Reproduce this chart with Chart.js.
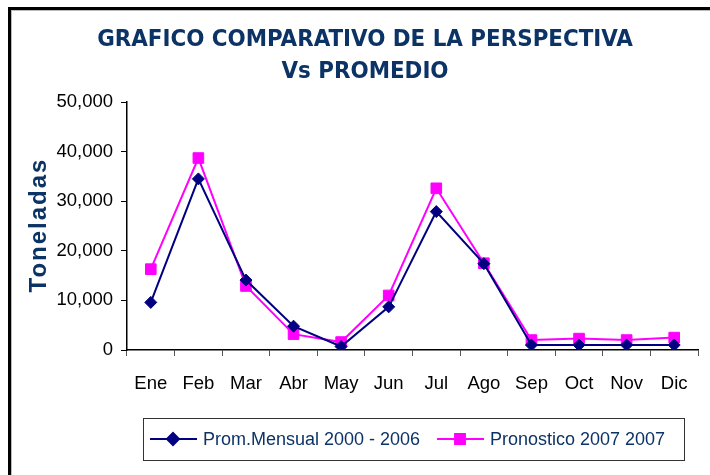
<!DOCTYPE html>
<html>
<head>
<meta charset="utf-8">
<script src="https://cdn.jsdelivr.net/npm/chart.js@4/dist/chart.umd.min.js"></script>
<style>
  html, body { margin: 0; padding: 0; background: #fff; }
  #wrap { position: relative; width: 710px; height: 475px; }
</style>
</head>
<body>
<div id="wrap"><canvas id="grafico" width="710" height="475"></canvas></div>
<script>
const meses = ['Ene', 'Feb', 'Mar', 'Abr', 'May', 'Jun', 'Jul', 'Ago', 'Sep', 'Oct', 'Nov', 'Dic'];
const promMensual = [9600, 34500, 14100, 4800, 700, 8700, 27900, 17400, 1000, 1000, 1000, 1000];
const pronostico = [16300, 38700, 12900, 3200, 1600, 11000, 32600, 17500, 2000, 2300, 2000, 2500];
const yTicks = [0, 10000, 20000, 30000, 40000, 50000];

const tituloLineas = ['GRAFICO COMPARATIVO DE LA PERSPECTIVA', 'Vs PROMEDIO'];
const tituloEje = 'Toneladas';
const nombres = ['Prom.Mensual 2000 - 2006', 'Pronostico 2007 2007'];

const AZUL = '#000080';
const ROSA = '#ff00ff';
const NAVY = '#0c3365';

// marco, titulo, titulo del eje y leyenda dibujados a mano
const extras = {
    id: 'extras',
    afterDraw(chart) {
        const ctx = chart.ctx;
        const area = chart.chartArea;
        ctx.save();

        ctx.strokeStyle = '#bbb';
        ctx.lineWidth = 1;
        ctx.strokeRect(11.5, 10.5, 900, 700);
        ctx.strokeStyle = '#000';
        ctx.lineWidth = 3;
        ctx.strokeRect(9.5, 8.5, 900, 700);

        ctx.fillStyle = NAVY;
        ctx.textAlign = 'center';
        ctx.textBaseline = 'alphabetic';
        ctx.font = 'bold 21px "DejaVu Sans Condensed", "DejaVu Sans"';
        const w = ctx.measureText(tituloLineas[0]).width;
        const size = 21 * 536 / w;
        ctx.font = `bold ${size}px "DejaVu Sans Condensed", "DejaVu Sans"`;
        ctx.fillText(tituloLineas[0], 365, 46);
        ctx.fillText(tituloLineas[1], 365, 78);

        ctx.save();
        ctx.translate(39, (area.top + area.bottom) / 2);
        ctx.rotate(-Math.PI / 2);
        ctx.font = 'bold 24px "Liberation Sans", Arial';
        ctx.letterSpacing = '2px';
        ctx.textBaseline = 'middle';
        ctx.fillText(tituloEje, 1, 0);
        ctx.restore();

        // leyenda
        ctx.strokeStyle = '#333';
        ctx.lineWidth = 1;
        ctx.strokeRect(143.5, 418.5, 541, 42);
        const ly = 439;
        ctx.font = '18px "Liberation Sans", Arial';
        ctx.textAlign = 'left';
        ctx.textBaseline = 'middle';
        const items = [
            { x: 150, color: AZUL, estilo: 'rectRot', r: 6, texto: nombres[0] },
            { x: 437, color: ROSA, estilo: 'rect', r: 7, texto: nombres[1] }
        ];
        items.forEach(it => {
            ctx.strokeStyle = it.color;
            ctx.lineWidth = 2;
            ctx.beginPath();
            ctx.moveTo(it.x, ly);
            ctx.lineTo(it.x + 47, ly);
            ctx.stroke();
            ctx.fillStyle = it.color;
            Chart.helpers.drawPoint(ctx, { pointStyle: it.estilo, radius: it.r, borderWidth: 1 }, it.x + 23, ly);
            ctx.fill();
            ctx.fillStyle = NAVY;
            ctx.fillText(it.texto, it.x + 53, ly + 1);
        });
        ctx.restore();
    }
};

new Chart(document.getElementById('grafico'), {
    type: 'line',
    data: {
        labels: meses,
        datasets: [
            {
                label: nombres[0], data: promMensual,
                borderColor: AZUL, backgroundColor: AZUL, borderWidth: 2,
                pointStyle: 'rectRot', pointRadius: 6, pointBorderWidth: 1,
                pointHoverRadius: 6, tension: 0
            },
            {
                label: nombres[1], data: pronostico,
                borderColor: ROSA, backgroundColor: ROSA, borderWidth: 2,
                pointStyle: 'rect', pointRadius: 7.5, pointBorderWidth: 1,
                pointHoverRadius: 7.5, tension: 0
            }
        ]
    },
    options: {
        responsive: false,
        animation: false,
        layout: { padding: { left: 0, right: 12, top: 102, bottom: 0 } },
        plugins: { legend: { display: false }, title: { display: false }, tooltip: { enabled: false } },
        scales: {
            x: {
                offset: true,
                grid: { offset: true, drawOnChartArea: false, tickLength: 6, color: '#000', tickColor: '#555' },
                border: { color: '#000', width: 1.5 },
                ticks: { color: '#000', font: { family: '"Liberation Sans", Arial', size: 18.5 }, padding: 17, maxRotation: 0, autoSkip: false },
                afterFit: s => { s.height = 125; }
            },
            y: {
                min: 0, max: 50000,
                afterBuildTicks: s => { s.ticks = yTicks.map(v => ({ value: v })); },
                grid: { drawOnChartArea: false, tickLength: 6, tickColor: '#000' },
                border: { color: '#000', width: 1.5 },
                ticks: {
                    color: '#000', font: { family: '"Liberation Sans", Arial', size: 18.5 }, padding: 8,
                    callback: v => v.toLocaleString('en-US')
                },
                afterFit: s => { s.width = 127; }
            }
        }
    },
    plugins: [extras]
});
</script>
</body>
</html>
